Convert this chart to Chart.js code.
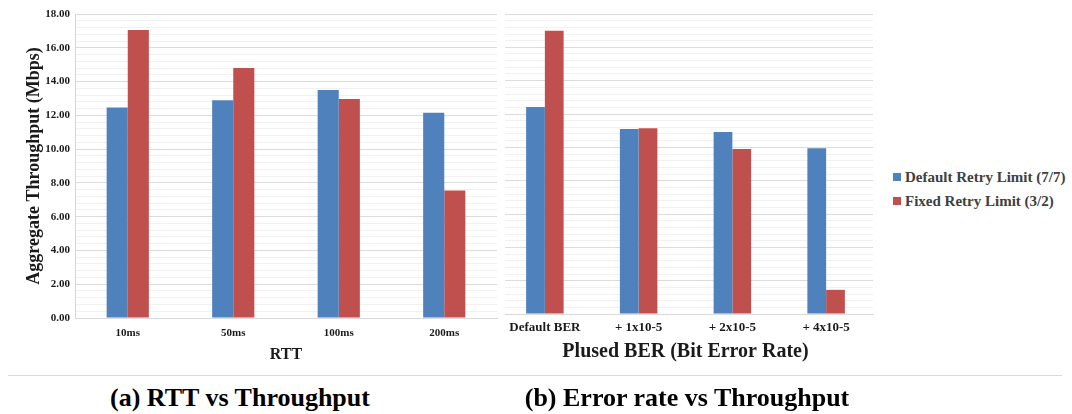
<!DOCTYPE html>
<html>
<head>
<meta charset="utf-8">
<script src="https://cdn.jsdelivr.net/npm/chart.js@4.4.1/dist/chart.umd.min.js"></script>
<style>
  html, body { margin: 0; padding: 0; background: #fff; }
  body { position: relative; width: 1072px; height: 414px; overflow: hidden;
         font-family: "Liberation Serif", "Times New Roman", serif; }
  canvas { position: absolute; top: 0; }
  #rttChart { left: 0; }
  #berChart { left: 490px; }
  .legend { position: absolute; left: 893px; top: 168px; font-weight: bold; font-size: 15px; color: #404040; }
  .legend div { height: 24px; line-height: 18px; white-space: nowrap; }
  .legend span { display: inline-block; width: 8px; height: 8px; margin-right: 4px; vertical-align: 1px; }
  .rule { position: absolute; left: 8px; top: 375px; width: 1054px; height: 1px; background: #d9d9d9; }
  .caption { position: absolute; top: 383px; font-weight: bold; font-size: 26px; color: #000;
             white-space: nowrap; transform: translateX(-50%); line-height: 30px; }
</style>
</head>
<body>
<canvas id="rttChart" width="505" height="372"></canvas>
<canvas id="berChart" width="400" height="372"></canvas>
<div class="legend" id="legend"></div>
<div class="rule"></div>
<div class="caption" style="left:240px">(a) RTT vs Throughput</div>
<div class="caption" style="left:687px">(b) Error rate vs Throughput</div>

<script>
// Throughput (Mbps) for each retry-limit setting
const seriesNames = ['Default Retry Limit (7/7)', 'Fixed Retry Limit (3/2)'];
const seriesColors = ['#4F81BD', '#C0504D'];

const rttLabels = ['10ms', '50ms', '100ms', '200ms'];
const rttDefault = [12.47, 12.9, 13.5, 12.15];
const rttFixed = [17.05, 14.8, 12.97, 7.55];

const berLabels = ['Default BER', '+ 1x10-5', '+ 2x10-5', '+ 4x10-5'];
const berDefault = [12.42, 11.1, 10.92, 9.95];
const berFixed = [17.0, 11.15, 9.9, 1.45];

const yMax = 18;
const yMajorStep = 2;
const yMinorStep = 0.4;

const SERIF = '"Liberation Serif", "Times New Roman", serif';
const isMajor = v => Math.abs(v / yMajorStep - Math.round(v / yMajorStep)) < 1e-6;

function datasets(a, b) {
  return [a, b].map((data, i) => ({
    label: seriesNames[i],
    data,
    backgroundColor: seriesColors[i],
    borderWidth: 0,
    categoryPercentage: 0.4,
    barPercentage: 1.0
  }));
}

function yScale(showLabels, borderOn) {
  return {
    min: 0, max: yMax,
    border: { display: borderOn, color: '#d6d6d6' },
    grid: {
      drawTicks: false,
      color: c => isMajor(c.tick.value) ? '#dcdcdc' : '#f1f1f1',
      lineWidth: 1
    },
    ticks: {
      display: showLabels,
      stepSize: yMinorStep,
      autoSkip: false,
      padding: 5,
      color: '#1a1a1a',
      font: { family: SERIF, size: 11, weight: 'bold' },
      callback: v => isMajor(v) ? v.toFixed(2) : ''
    }
  };
}

function xScale(title, titleSize, tickSize, tickPad, height) {
  return {
    border: { display: true, color: '#d9d9d9' },
    grid: { display: false, drawTicks: false },
    ticks: {
      padding: tickPad,
      color: '#1a1a1a',
      maxRotation: 0,
      font: { family: SERIF, size: tickSize, weight: 'bold' }
    },
    title: {
      display: true,
      text: title,
      color: '#1a1a1a',
      font: { family: SERIF, size: titleSize, weight: 'bold', lineHeight: 1.2 },
      padding: { top: 0, bottom: 8 }
    },
    afterFit: s => { s.height = height; }
  };
}

const common = {
  responsive: false,
  animation: false,
  devicePixelRatio: 1,
  plugins: { legend: { display: false }, tooltip: { enabled: false } }
};

// (a) RTT vs Throughput
const rttY = yScale(true, true);
rttY.title = {
  display: true,
  text: 'Aggregate Throughput (Mbps)',
  color: '#1a1a1a',
  font: { family: SERIF, size: 18, weight: 'bold', lineHeight: 1.2 },
  padding: { top: 24, bottom: 0 }
};
rttY.afterFit = s => { s.width = 75; };

new Chart(document.getElementById('rttChart'), {
  type: 'bar',
  data: { labels: rttLabels, datasets: datasets(rttDefault, rttFixed) },
  options: Object.assign({}, common, {
    layout: { padding: { left: 0, right: 8, top: 14, bottom: 0 } },
    scales: { x: xScale('RTT', 16, 11, 9, 54), y: rttY }
  })
});

// (b) Error rate vs Throughput
const berY = yScale(false, false);
berY.afterFit = s => { s.width = 0; };

// the plot's gridlines begin a little right of its category band
const gridInset = {
  id: 'gridInset',
  beforeDatasetsDraw(chart) {
    const { ctx, chartArea: a } = chart;
    ctx.save();
    ctx.fillStyle = '#fff';
    ctx.fillRect(a.left - 1, a.top - 2, 8, a.bottom - a.top + 4);
    ctx.restore();
  }
};

new Chart(document.getElementById('berChart'), {
  type: 'bar',
  data: { labels: berLabels, datasets: datasets(berDefault, berFixed) },
  options: Object.assign({}, common, {
    layout: { padding: { left: 8, right: 17, top: 14, bottom: 0 } },
    scales: { x: xScale('Plused BER (Bit Error Rate)', 20, 13, 6, 58), y: berY }
  }),
  plugins: [gridInset]
});

// legend
const legend = document.getElementById('legend');
seriesNames.forEach((name, i) => {
  const row = document.createElement('div');
  const sw = document.createElement('span');
  sw.style.background = seriesColors[i];
  row.appendChild(sw);
  row.appendChild(document.createTextNode(name));
  legend.appendChild(row);
});
</script>
</body>
</html>
